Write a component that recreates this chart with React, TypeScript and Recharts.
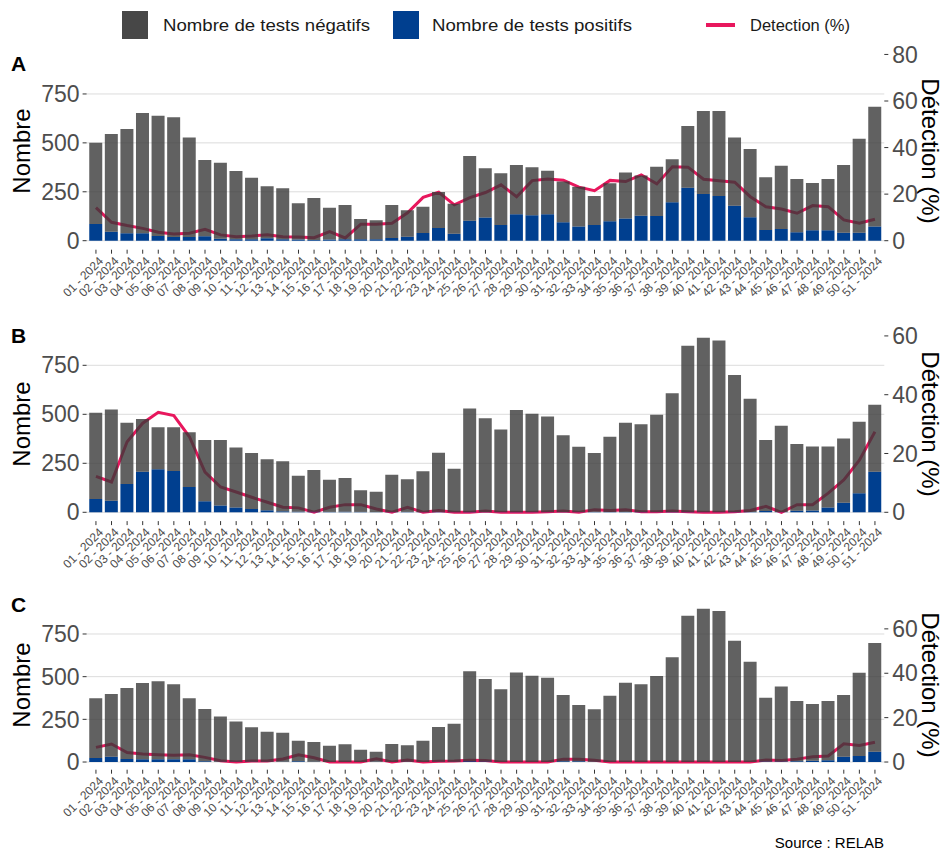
import React from 'react';
import { ComposedChart, Bar, Line, XAxis, YAxis, ReferenceLine } from 'recharts';

const weeks = [
  '01 - 2024', '02 - 2024', '03 - 2024', '04 - 2024', '05 - 2024', '06 - 2024', '07 - 2024', '08 - 2024', '09 - 2024', '10 - 2024',
  '11 - 2024', '12 - 2024', '13 - 2024', '14 - 2024', '15 - 2024', '16 - 2024', '17 - 2024', '18 - 2024', '19 - 2024', '20 - 2024',
  '21 - 2024', '22 - 2024', '23 - 2024', '24 - 2024', '25 - 2024', '26 - 2024', '27 - 2024', '28 - 2024', '29 - 2024', '30 - 2024',
  '31 - 2024', '32 - 2024', '33 - 2024', '34 - 2024', '35 - 2024', '36 - 2024', '37 - 2024', '38 - 2024', '39 - 2024', '40 - 2024',
  '41 - 2024', '42 - 2024', '43 - 2024', '44 - 2024', '45 - 2024', '46 - 2024', '47 - 2024', '48 - 2024', '49 - 2024', '50 - 2024',
  '51 - 2024',
];

// Panel A
const negA = [416, 499, 533, 615, 614, 612, 508, 390, 389, 348, 314, 266, 260, 185, 214, 163, 174, 103, 96, 168, 135, 135, 184, 153, 331, 252, 265, 252, 245, 223, 208, 204, 149, 194, 234, 205, 252, 220, 315, 424, 434, 348, 349, 269, 323, 272, 242, 262, 346, 480, 613];
const posA = [85, 46, 38, 38, 24, 19, 19, 23, 10, 8, 8, 12, 8, 6, 4, 6, 8, 8, 8, 14, 20, 39, 65, 36, 102, 118, 80, 135, 130, 135, 94, 72, 80, 99, 114, 128, 126, 196, 271, 239, 229, 179, 120, 55, 60, 43, 53, 53, 41, 41, 72];
const detA = [14.2, 7.9, 6.5, 5.3, 3.6, 2.9, 3.2, 4.9, 2.5, 1.7, 2.0, 2.6, 1.7, 1.6, 1.3, 3.9, 1.2, 7.1, 7.1, 7.5, 12.0, 18.6, 20.8, 15.4, 18.5, 20.7, 24.0, 18.9, 25.8, 26.5, 26.0, 23.0, 21.5, 25.9, 25.4, 28.3, 24.4, 31.8, 31.6, 26.4, 25.7, 25.1, 18.9, 14.6, 13.6, 11.8, 15.1, 14.6, 8.9, 7.5, 9.2];

// Panel B
const negB = [440, 466, 313, 269, 215, 223, 279, 313, 335, 305, 286, 260, 255, 184, 213, 164, 172, 110, 104, 191, 166, 208, 302, 221, 527, 479, 422, 521, 502, 488, 392, 334, 301, 384, 455, 447, 497, 605, 848, 890, 875, 698, 578, 362, 441, 340, 327, 311, 328, 365, 342];
const posB = [68, 59, 144, 207, 219, 211, 129, 56, 34, 25, 17, 10, 5, 3, 3, 2, 3, 2, 1, 1, 2, 1, 2, 1, 2, 1, 1, 1, 1, 1, 1, 1, 2, 2, 2, 2, 1, 2, 2, 1, 1, 2, 2, 7, 1, 8, 9, 25, 49, 97, 207];
const detB = [12.2, 10.3, 24.0, 30.3, 34.0, 32.9, 25.7, 13.7, 8.6, 6.9, 5.1, 3.4, 1.7, 1.5, 0, 1.7, 2.6, 2.6, 1.1, 0, 1.7, 0, 0.6, 0, 0, 0.4, 0, 0, 0, 0.2, 0.4, 0, 0.9, 0.6, 0.9, 0.2, 0.2, 0.4, 0.2, 0, 0, 0.2, 0.6, 2.0, 0, 2.6, 2.6, 6.5, 11.0, 17.7, 27.4];

// Panel C
const negC = [350, 367, 415, 447, 457, 439, 357, 306, 265, 237, 202, 177, 170, 121, 115, 96, 104, 72, 59, 105, 97, 125, 204, 223, 527, 483, 426, 525, 506, 494, 387, 330, 307, 388, 465, 455, 504, 613, 857, 898, 885, 711, 588, 374, 440, 352, 332, 347, 361, 488, 637];
const posC = [23, 31, 18, 16, 16, 16, 16, 4, 2, 1, 1, 1, 2, 4, 2, 0, 0, 0, 1, 0, 1, 0, 1, 1, 4, 3, 0, 0, 0, 0, 5, 4, 2, 0, 0, 0, 0, 0, 0, 0, 0, 0, 0, 3, 3, 5, 8, 10, 31, 35, 60];
const detC = [6.6, 8.1, 4.3, 3.6, 3.3, 3.0, 3.3, 2.1, 0.6, 0, 0.5, 0.5, 1.4, 3.3, 1.9, 0, 0, 0, 1.5, 0, 0.9, 0, 0.4, 0.5, 0.8, 0.7, 0, 0, 0, 0, 1.3, 1.3, 0.8, 0, 0, 0, 0, 0, 0, 0, 0, 0, 0, 0.9, 0.7, 1.3, 2.4, 2.7, 8.2, 7.5, 8.9];

const leftTicks = [0, 250, 500, 750];
const rightTicksA = [0, 20, 40, 60, 80];
const rightTicksBC = [0, 20, 40, 60];

const FONT = '"Liberation Sans", Arial, Helvetica, sans-serif';
const GRAY = '#3a3a3a';
const BLUE = '#003f8f';
const CRIMSON = '#e8175d';

function buildData(neg: number[], pos: number[], det: number[]) {
  return weeks.map((w, i) => ({ week: w, neg: neg[i], pos: pos[i], det: det[i] }));
}

const XTick = (props: any) => {
  const { x, y, payload } = props;
  return (
    <g transform={`translate(${x + 2},${y})`}>
      <text x={0} y={0} dy="0.71em" textAnchor="end" transform="rotate(-45)" fontSize={12} fill="#4d4d4d" fontFamily={FONT}>
        {payload.value}
      </text>
    </g>
  );
};

type PanelProps = {
  top: number;
  height: number;
  marginTop: number;
  xAxisHeight: number;
  data: any[];
  leftDomain: [number, number];
  rightDomain: [number, number];
  rightTicks: number[];
};

function Panel({ top, height, marginTop, xAxisHeight, data, leftDomain, rightDomain, rightTicks }: PanelProps) {
  return (
    <div style={{ position: 'absolute', left: 0, top }}>
      <ComposedChart
        width={943}
        height={height}
        data={data}
        margin={{ top: marginTop, right: 0, bottom: 0, left: 0 }}
        barCategoryGap="7%"
      >
        <XAxis
          dataKey="week"
          interval={0}
          tick={<XTick />}
          tickSize={4}
          tickMargin={2}
          axisLine={false}
          tickLine={{ stroke: '#333333' }}
          height={xAxisHeight}
          padding={{ left: 1.56, right: 1.56 }}
        />
        <YAxis
          yAxisId="left"
          orientation="left"
          width={86.6}
          domain={leftDomain}
          ticks={leftTicks}
          allowDataOverflow
          axisLine={false}
          tickLine={{ stroke: '#333333' }}
          tickSize={4}
          tickMargin={3}
          tick={{ fill: '#4d4d4d', fontSize: 23, fontFamily: FONT }}
        />
        <YAxis
          yAxisId="right"
          orientation="right"
          width={58.7}
          domain={rightDomain}
          ticks={rightTicks}
          allowDataOverflow
          axisLine={false}
          tickLine={{ stroke: '#333333' }}
          tickSize={4}
          tickMargin={4}
          tick={{ fill: '#4d4d4d', fontSize: 23, fontFamily: FONT }}
        />
        {leftTicks.map((t) => (
          <ReferenceLine key={t} yAxisId="left" y={t} stroke="#dcdcdc" strokeWidth={1} ifOverflow="visible" zIndex={-100} />
        ))}
        <Line
          yAxisId="right"
          type="linear"
          dataKey="det"
          stroke={CRIMSON}
          strokeWidth={3}
          dot={false}
          activeDot={false}
          isAnimationActive={false}
          zIndex={400}
        />
        <Bar yAxisId="left" dataKey="pos" stackId="s" fill={BLUE} isAnimationActive={false} zIndex={450} />
        <Bar yAxisId="left" dataKey="neg" stackId="s" fill={GRAY} fillOpacity={0.8} isAnimationActive={false} zIndex={450} />
      </ComposedChart>
    </div>
  );
}

const dataA = buildData(negA, posA, detA);
const dataB = buildData(negB, posB, detB);
const dataC = buildData(negC, posC, detC);

export default function App() {
  return (
    <div style={{ position: 'absolute', left: 0, top: 0, width: 943, height: 851, background: '#ffffff', fontFamily: FONT }}>
      <Panel top={40} height={270} marginTop={11.7} xAxisHeight={60.3} data={dataA} leftDomain={[-46, 966]} rightDomain={[-46 / 11.9, 966 / 11.9]} rightTicks={rightTicksA} />
      <Panel top={315} height={265} marginTop={12.1} xAxisHeight={58.9} data={dataB} leftDomain={[-45, 945]} rightDomain={[-3, 63]} rightTicks={rightTicksBC} />
      <Panel top={590} height={245} marginTop={10.7} xAxisHeight={65.3} data={dataC} leftDomain={[-45, 945]} rightDomain={[-45 / 13, 945 / 13]} rightTicks={rightTicksBC} />
      <svg width={943} height={851} style={{ position: 'absolute', left: 0, top: 0, pointerEvents: 'none' }} fontFamily={FONT}>
        {/* Legend */}
        <rect x={122} y={11} width={26} height={28} fill="#474747" />
        <text x={163} y={31} fontSize={17} fill="#1a1a1a" textLength={207} lengthAdjust="spacingAndGlyphs">Nombre de tests négatifs</text>
        <rect x={393} y={11} width={26} height={28} fill={BLUE} />
        <text x={432} y={31} fontSize={17} fill="#1a1a1a" textLength={200} lengthAdjust="spacingAndGlyphs">Nombre de tests positifs</text>
        <line x1={706} x2={735} y1={25} y2={25} stroke={CRIMSON} strokeWidth={4} />
        <text x={750} y={31} fontSize={17} fill="#1a1a1a" textLength={100} lengthAdjust="spacingAndGlyphs">Detection (%)</text>

        {/* Panel letters */}
        <text x={11} y={71} fontSize={21} fontWeight="bold" fill="#000">A</text>
        <text x={11} y={343} fontSize={21} fontWeight="bold" fill="#000">B</text>
        <text x={11} y={612} fontSize={21} fontWeight="bold" fill="#000">C</text>

        {/* Axis titles */}
        <text transform="translate(30,151) rotate(-90)" textAnchor="middle" fontSize={24} fill="#000">Nombre</text>
        <text transform="translate(30,424) rotate(-90)" textAnchor="middle" fontSize={24} fill="#000">Nombre</text>
        <text transform="translate(30,685) rotate(-90)" textAnchor="middle" fontSize={24} fill="#000">Nombre</text>
        <text transform="translate(922,151) rotate(90)" textAnchor="middle" fontSize={24} fill="#000">Détection (%)</text>
        <text transform="translate(922,424) rotate(90)" textAnchor="middle" fontSize={24} fill="#000">Détection (%)</text>
        <text transform="translate(922,685) rotate(90)" textAnchor="middle" fontSize={24} fill="#000">Détection (%)</text>

        {/* Source */}
        <text x={884} y={848} textAnchor="end" fontSize={15} fill="#000">Source : RELAB</text>
      </svg>
    </div>
  );
}
